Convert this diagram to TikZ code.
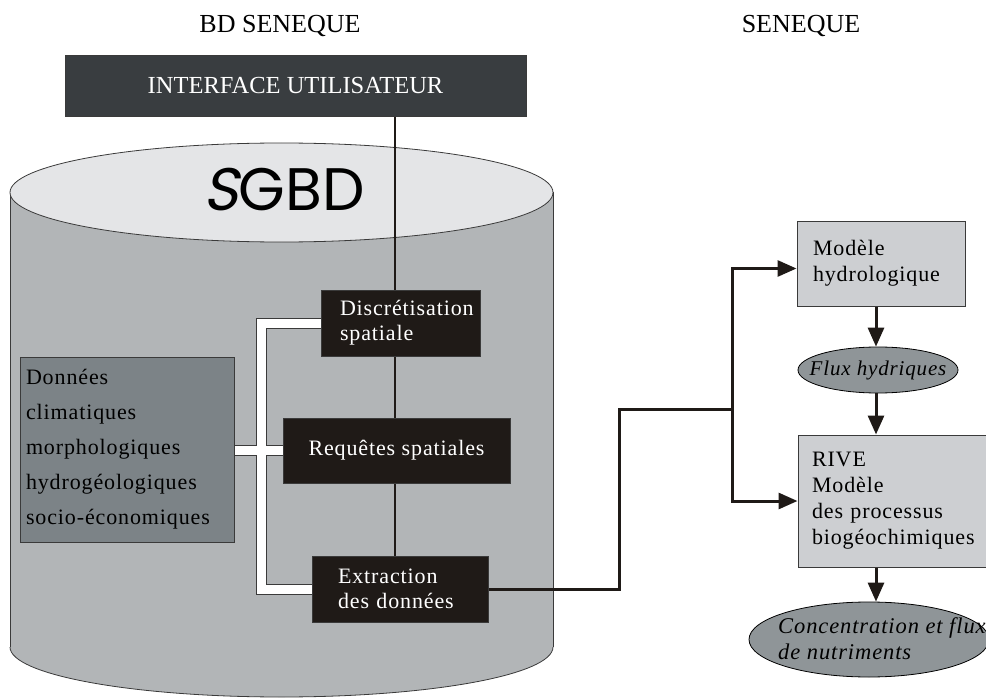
\documentclass[tikz,border=0pt]{standalone}
\usepackage{fontspec}
\setmainfont{Liberation Serif}
\newfontfamily\bodyf[LetterSpace=4]{Liberation Serif}
\newfontfamily\sgbdf{Poppins}
\usetikzlibrary{arrows.meta,shapes.geometric,backgrounds}
\definecolor{ifc}{HTML}{393D40}
\definecolor{blk}{HTML}{1F1A17}
\definecolor{cylbody}{HTML}{B2B5B7}
\definecolor{cyltop}{HTML}{E4E5E7}
\definecolor{dbox}{HTML}{7C8387}
\definecolor{mbox}{HTML}{CDCFD2}
\definecolor{ellc}{HTML}{8F9598}
\definecolor{edgec}{HTML}{3A3A3A}
\begin{document}
\begin{tikzpicture}[x=1pt,y=-1pt,
  titletxt/.style={font=\fontsize{26}{30}\selectfont, inner sep=0pt},
  ifbox/.style={draw=edgec, line width=1pt, fill=ifc, text=white, font=\fontsize{24.5}{28}\selectfont, inner sep=0pt},
  darkbox/.style={draw=edgec, line width=1pt, fill=blk, text=white, font=\bodyf\fontsize{22}{25}\selectfont, align=left, inner sep=0pt},
  databox/.style={draw=edgec, line width=1pt, fill=dbox, font=\bodyf\fontsize{22}{35}\selectfont, align=left, inner sep=0pt},
  modbox/.style={draw=edgec, line width=1pt, fill=mbox, font=\bodyf\fontsize{22}{26}\selectfont, align=left, inner sep=0pt},
  ellbox/.style={ellipse, draw=black, line width=0.8pt, fill=ellc, inner sep=0pt},
  itxt/.style={font=\bodyf\itshape\fontsize{21}{26}\selectfont, align=left, inner sep=0pt},
  conn/.style={line width=3pt, draw=blk},
  arr/.style={-{Triangle[length=19pt,width=16pt]}},
  brout/.style={line width=11pt, draw=edgec},
  brin/.style={line width=9pt, draw=white}
]
\useasboundingbox (0,0) rectangle (986,698);

% cylinder
\begin{scope}[on background layer]
  \fill[cylbody] (10,192) rectangle (553,647);
  \fill[cylbody] (281.5,647) ellipse [x radius=271.5, y radius=50];
  \draw[edgec, line width=0.8pt] (10,192) -- (10,647);
  \draw[edgec, line width=0.8pt] (553,192) -- (553,647);
  \begin{scope}
    \clip (0,647) rectangle (986,700);
    \draw[edgec, line width=0.8pt] (281.5,647) ellipse [x radius=271.5, y radius=50];
  \end{scope}
  \draw[edgec, line width=0.8pt, fill=cyltop] (281.5,192.5) ellipse [x radius=271.5, y radius=49.5];
\end{scope}

% titles
\node[titletxt] (t1) at (280,26) {BD SENEQUE};
\node[titletxt] (t2) at (801,26) {SENEQUE};

% interface
\node[ifbox, minimum width=461pt, minimum height=61pt] (iface) at (295.5,86) {INTERFACE UTILISATEUR};

% SGBD
\node[font=\sgbdf\fontsize{60}{62}\selectfont, inner sep=0pt] (sgbd) at (284,190) {{\addfontfeature{FakeSlant=0.2}S}GBD};

% dark boxes
\node[darkbox, minimum width=159pt, minimum height=66pt, text width=121pt] (disc) at (400.5,323) {Discrétisation\\spatiale};
\node[darkbox, minimum width=227pt, minimum height=65pt, align=center] (req) at (396.5,450.5) {Requêtes spatiales};
\node[darkbox, minimum width=176pt, minimum height=66pt, text width=124pt] (extr) at (400,589) {Extraction\\des données};

% data box
\node[databox, minimum width=214pt, minimum height=185pt, text width=202pt] (don) at (127,449.5) {Données\\climatiques\\morphologiques\\hydrogéologiques\\socio-économiques};

% models
\node[modbox, minimum width=168pt, minimum height=85pt, text width=136pt] (hyd) at (881,263.5) {Modèle\\hydrologique};
\node[modbox, minimum width=192pt, minimum height=132pt, text width=164pt] (rive) at (894,501) {RIVE\\Modèle\\des processus\\biogéochimiques};

% ellipses
\node[ellbox, minimum width=160pt, minimum height=46pt] (flux) at (878,370) {};
\node[itxt] (fluxlbl) at (flux.center) {Flux hydriques};
\node[ellbox, minimum width=240pt, minimum height=75pt] (conc) at (869,639.5) {};
\node[itxt, anchor=west, font=\bodyf\itshape\fontsize{22.5}{26}\selectfont] (conclbl) at (778,639) {Concentration et flux\\de nutriments};

% coordinates
\coordinate (vx) at (395,0);
\coordinate (bx) at (261,0);
\coordinate (k) at (619,409);
\coordinate (jn) at (732,409);
\coordinate (ax) at (876,0);

% connectors behind boxes
\begin{scope}[on background layer]
  \draw[line width=2pt, draw=blk] (iface.south -| vx) -- (extr.north -| vx);
  \draw[brout] (disc.west) -- (disc.west -| bx) -- (extr.west -| bx) -- (extr.west);
  \draw[brout] (don.east |- req.west) -- (req.west);
  \draw[brin] (disc.west) -- (disc.west -| bx) -- (extr.west -| bx) -- (extr.west);
  \draw[brin] (don.east |- req.west) -- (req.west);
\end{scope}

% right connectors
\draw[conn] (extr.east) -- (extr.east -| k) -- (k) -- (jn);
\draw[conn, arr] (jn) |- ([yshift=-5pt]hyd.west);
\draw[conn, arr] (jn) |- (rive.west);
\draw[conn, arr] (hyd.south -| ax) -- (flux.north -| ax);
\draw[conn, arr] (flux.south -| ax) -- (rive.north -| ax);
\draw[conn, arr] (rive.south -| ax) -- (conc.north -| ax);
\end{tikzpicture}
\end{document}
